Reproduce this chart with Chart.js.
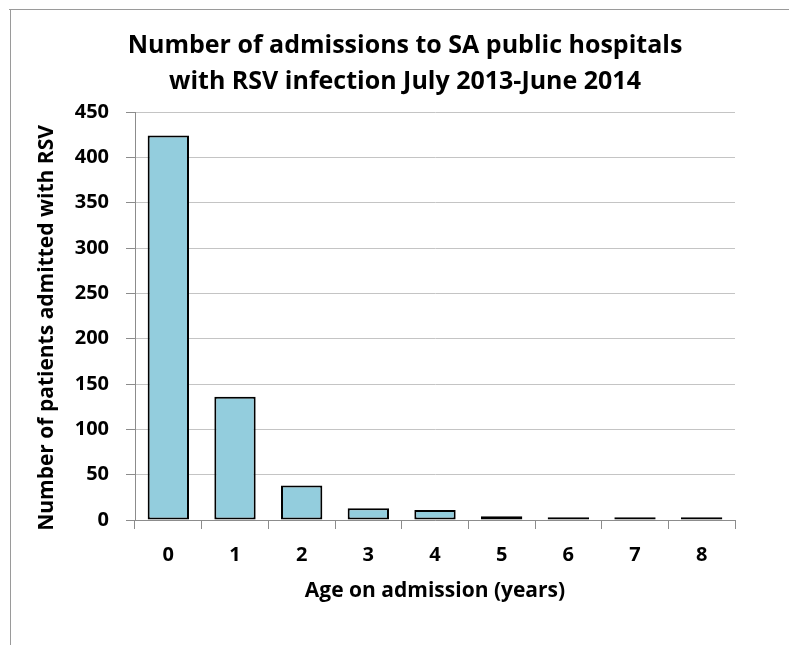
<!DOCTYPE html>
<html><head><meta charset="utf-8">
<script src="https://cdn.jsdelivr.net/npm/chart.js@4.4.0/dist/chart.umd.min.js"></script>
<style>html,body{margin:0;padding:0;background:#fff}canvas{display:block}</style>
</head><body>
<canvas id="c" width="789" height="645"></canvas>
<script>
const categories = ['0','1','2','3','4','5','6','7','8'];
const admissions = [424, 136, 38, 13, 11, 4, 3, 3, 3];
const yTickValues = [0, 50, 100, 150, 200, 250, 300, 350, 400, 450];
const chartTitle = ['Number of admissions to SA public hospitals', 'with RSV infection July 2013-June 2014'];
const xAxisTitle = 'Age on admission (years)';
const yAxisTitle = 'Number of patients admitted with RSV';

const FONT = '"Open Sans", Lato, sans-serif';

const framePlugin = {
  id: 'frame',
  beforeDraw(chart) {
    const ctx = chart.ctx;
    ctx.save();
    ctx.fillStyle = '#fff';
    ctx.fillRect(0, 0, chart.width, chart.height);
    ctx.strokeStyle = '#9a9a9a';
    ctx.lineWidth = 1;
    ctx.beginPath();
    ctx.moveTo(9, 9.5); ctx.lineTo(chart.width, 9.5);
    ctx.moveTo(10.5, 9); ctx.lineTo(10.5, chart.height);
    ctx.stroke();
    ctx.restore();
  }
};

// y-axis title, drawn as rotated text beside the value axis
const yTitlePlugin = {
  id: 'yTitle',
  afterDraw(chart) {
    const ctx = chart.ctx;
    const area = chart.chartArea;
    ctx.save();
    ctx.translate(47, (area.top + area.bottom) / 2 + 12);
    ctx.rotate(-Math.PI / 2);
    ctx.font = 'bold 21px ' + FONT;
    ctx.fillStyle = '#000';
    ctx.textAlign = 'center';
    ctx.textBaseline = 'middle';
    ctx.fillText(yAxisTitle, 0, 0);
    ctx.restore();
  }
};

Chart.defaults.font.family = FONT;
Chart.defaults.font.weight = 'bold';
Chart.defaults.color = '#000';

new Chart(document.getElementById('c'), {
  type: 'bar',
  data: {
    labels: categories,
    datasets: [{
      data: admissions,
      backgroundColor: '#93CDDD',
      borderColor: '#000',
      borderWidth: 2,
      borderSkipped: false,
      barPercentage: 0.62,
      categoryPercentage: 1.0
    }]
  },
  options: {
    responsive: false,
    animation: false,
    devicePixelRatio: 1,
    layout: { padding: { left: 75, right: 54, top: 0, bottom: 41 } },
    plugins: {
      legend: { display: false },
      tooltip: { enabled: false },
      title: {
        display: true,
        text: chartTitle,
        font: { size: 25, weight: 'bold', lineHeight: 1.44 },
        color: '#000',
        padding: { top: 28, bottom: 12 }
      }
    },
    scales: {
      x: {
        grid: { display: true, drawOnChartArea: false, drawTicks: true, tickLength: 9, color: '#8c8c8c', offset: true },
        border: { display: true, color: '#8c8c8c', width: 1 },
        ticks: { font: { size: 20, weight: 'bold' }, padding: 14, color: '#000' },
        title: { display: true, text: xAxisTitle, font: { size: 21, weight: 'bold' }, padding: 0, color: '#000' },
        afterFit(scale) { scale.height = 84; }
      },
      y: {
        min: 0,
        max: 450,
        afterBuildTicks(scale) { scale.ticks = yTickValues.map(v => ({ value: v })); },
        grid: { color: '#c4c4c4', tickLength: 9, tickColor: '#8c8c8c' },
        border: { display: true, color: '#8c8c8c', width: 1 },
        ticks: { font: { size: 20, weight: 'bold' }, padding: 17, color: '#000' },
        title: { display: false, text: yAxisTitle },
        afterFit(scale) { scale.width = 60; }
      }
    }
  },
  plugins: [framePlugin, yTitlePlugin]
});
</script>
</body></html>
